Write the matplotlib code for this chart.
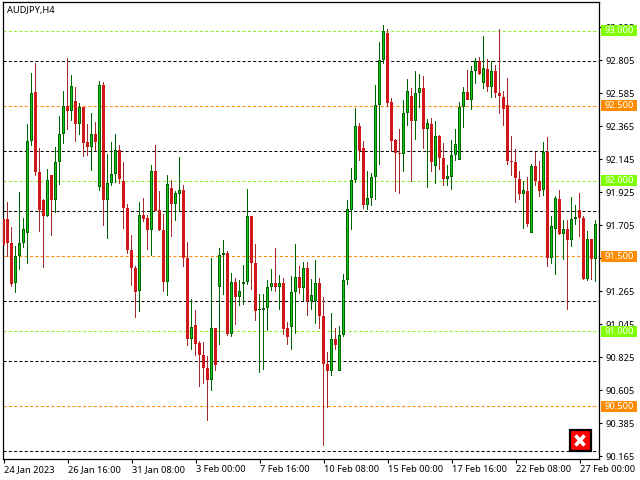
from matplotlib import pyplot as plt
from matplotlib.patches import Rectangle
import numpy as np

plt.rcParams['font.family'] = ['Noto Sans', 'DejaVu Sans']

opens = [91.747, 91.747, 91.589, 91.318, 91.500, 91.587, 91.654, 92.267, 92.594, 92.060,
         91.872, 91.765, 92.040, 91.872, 92.125, 92.312, 92.500, 92.465, 92.534, 92.378,
         92.494, 92.263, 92.227, 92.314, 91.958, 92.640, 91.872, 91.987, 92.045, 92.207,
         91.998, 91.820, 91.540, 91.420, 91.265, 91.774, 91.754, 91.672, 92.067, 91.807,
         91.674, 91.325, 91.954, 91.845, 91.912, 91.940, 91.487, 90.947, 91.040, 90.920,
         90.840, 90.756, 90.672, 91.020, 91.292, 91.507, 91.520, 90.978, 91.327, 91.225,
         91.312, 91.327, 91.767, 91.454, 91.138, 91.138, 91.152, 91.292, 91.320, 91.292,
         91.320, 91.020, 91.025, 91.258, 91.360, 91.285, 91.420, 91.200, 91.200, 91.320,
         91.100, 90.780, 90.732, 90.947, 90.732, 90.974, 91.340, 91.809, 92.005, 92.367,
         92.220, 91.843, 91.885, 92.027, 92.505, 92.809, 92.987, 92.527, 92.274, 92.183,
         92.180, 92.452, 92.567, 92.398, 92.585, 92.620, 92.345, 92.380, 92.098, 92.300,
         92.154, 92.012, 92.027, 92.174, 92.140, 92.494, 92.594, 92.538, 92.734, 92.800,
         92.654, 92.747, 92.625, 92.734, 92.587, 92.560, 92.507, 92.136, 92.127, 92.014,
         91.912, 91.934, 91.654, 92.103, 91.998, 91.938, 92.194, 91.485, 91.678, 91.880,
         91.649, 91.680, 91.605, 91.745, 91.807, 91.756, 91.349, 91.614, 91.478]
highs = [91.843, 91.863, 91.696, 91.569, 91.929, 91.754, 92.383, 92.720, 92.787, 92.220,
         91.883, 92.083, 92.040, 92.229, 92.434, 92.603, 92.820, 92.707, 92.627, 92.520,
         92.494, 92.383, 92.454, 92.396, 92.665, 92.660, 92.180, 92.263, 92.314, 92.240,
         92.127, 91.847, 91.643, 91.436, 91.860, 91.889, 91.774, 92.109, 92.240, 91.934,
         91.783, 92.043, 92.007, 91.934, 92.160, 91.974, 91.596, 91.216, 91.143, 90.936,
         90.929, 90.836, 91.487, 91.020, 91.554, 91.607, 91.536, 91.387, 91.354, 91.343,
         91.443, 91.949, 91.767, 91.580, 91.249, 91.249, 91.343, 91.414, 91.554, 91.374,
         91.354, 91.063, 91.367, 91.580, 91.436, 91.460, 91.460, 91.347, 91.474, 91.354,
         91.227, 90.860, 91.120, 91.020, 91.036, 91.380, 91.874, 92.087, 92.489, 92.387,
         92.269, 92.069, 92.054, 92.643, 92.927, 93.043, 93.014, 92.554, 92.280, 92.347,
         92.543, 92.680, 92.620, 92.736, 92.714, 92.703, 92.416, 92.423, 92.400, 92.309,
         92.254, 92.107, 92.274, 92.347, 92.527, 92.627, 92.740, 92.765, 92.820, 92.829,
         92.967, 92.814, 92.800, 92.774, 93.014, 92.600, 92.687, 92.300, 92.214, 92.067,
         92.000, 92.027, 92.116, 92.192, 92.132, 92.258, 92.296, 91.769, 91.898, 91.943,
         91.738, 91.743, 91.894, 91.843, 91.920, 91.765, 91.669, 91.614, 91.740]
lows = [91.572, 91.492, 91.292, 91.252, 91.405, 91.552, 91.445, 92.236, 92.036, 91.658,
        91.418, 91.760, 91.636, 91.785, 91.972, 92.247, 92.343, 92.398, 92.258, 92.305,
        92.158, 92.165, 92.065, 92.198, 91.932, 91.698, 91.612, 91.965, 91.987, 91.983,
        91.683, 91.512, 91.298, 91.085, 91.125, 91.725, 91.538, 91.498, 91.798, 91.665,
        91.258, 91.232, 91.625, 91.732, 91.800, 91.425, 90.898, 90.872, 90.832, 90.625,
        90.645, 90.398, 90.598, 90.732, 90.905, 91.243, 90.965, 90.958, 91.038, 91.165,
        91.172, 91.309, 91.276, 91.069, 90.718, 90.743, 91.003, 91.269, 91.258, 91.138,
        90.972, 90.909, 90.876, 90.983, 91.249, 91.198, 91.098, 91.143, 91.049, 91.016,
        90.232, 90.485, 90.698, 90.872, 90.732, 90.958, 91.305, 91.676, 91.987, 92.132,
        91.816, 91.809, 91.832, 91.872, 92.105, 92.778, 92.494, 92.192, 91.925, 91.912,
        92.058, 92.365, 91.992, 92.276, 92.487, 92.216, 91.952, 92.058, 91.978, 92.072,
        91.965, 91.965, 91.938, 92.132, 92.140, 92.352, 92.540, 92.472, 92.645, 92.709,
        92.612, 92.592, 92.552, 92.552, 92.445, 92.365, 92.105, 92.032, 91.852, 91.872,
        91.678, 91.692, 91.654, 91.969, 91.892, 91.903, 91.425, 91.449, 91.372, 91.643,
        91.476, 91.138, 91.558, 91.709, 91.625, 91.343, 91.332, 91.343, 91.325]
closes = [91.572, 91.587, 91.312, 91.500, 91.589, 91.680, 92.267, 92.587, 92.058, 91.805,
          91.765, 92.007, 91.872, 92.127, 92.314, 92.500, 92.465, 92.634, 92.378, 92.494,
          92.252, 92.225, 92.314, 92.258, 92.640, 91.872, 91.987, 92.047, 92.207, 92.012,
          91.818, 91.538, 91.418, 91.258, 91.774, 91.749, 91.672, 92.067, 91.803, 91.672,
          91.325, 91.980, 91.845, 91.920, 91.940, 91.485, 90.947, 91.027, 90.912, 90.838,
          90.752, 90.672, 91.020, 90.772, 91.507, 91.520, 90.978, 91.327, 91.225, 91.267,
          91.327, 91.767, 91.452, 91.132, 91.143, 91.156, 91.294, 91.320, 91.292, 91.320,
          91.016, 90.958, 91.260, 91.360, 91.285, 91.420, 91.200, 91.240, 91.320, 91.098,
          90.778, 90.732, 90.947, 90.905, 90.974, 91.340, 91.814, 92.007, 92.367, 92.198,
          91.838, 91.887, 92.027, 92.507, 92.807, 93.000, 92.523, 92.265, 92.185, 92.178,
          92.454, 92.600, 92.398, 92.587, 92.620, 92.345, 92.387, 92.125, 92.300, 92.152,
          92.012, 92.034, 92.174, 92.247, 92.494, 92.594, 92.540, 92.734, 92.800, 92.714,
          92.754, 92.625, 92.734, 92.585, 92.565, 92.478, 92.132, 92.125, 92.018, 91.912,
          91.940, 91.712, 92.100, 91.998, 91.936, 92.194, 91.485, 91.700, 91.889, 91.649,
          91.680, 91.605, 91.747, 91.763, 91.752, 91.349, 91.614, 91.478, 91.714]

time_labels = ['24 Jan 2023', '26 Jan 16:00', '31 Jan 08:00', '3 Feb 00:00', '7 Feb 16:00',
               '10 Feb 08:00', '15 Feb 00:00', '17 Feb 16:00', '22 Feb 08:00', '27 Feb 00:00']
time_idx = [0, 16, 32, 48, 64, 80, 96, 112, 128, 144]
price_ticks = [93.025, 92.805, 92.585, 92.365, 92.145, 91.925, 91.705,
               91.485, 91.265, 91.045, 90.825, 90.605, 90.385, 90.165]

black_levels = [92.8, 92.2, 91.8, 91.2, 90.8, 90.2]
green_levels = [93.0, 92.0, 91.0]
orange_levels = [92.5, 91.5, 90.5]

GREEN_LINE = '#8fee2f'
GREEN_BOX = '#80ff00'
ORANGE = '#ff8c00'
DASH = (0, (2.9, 2.2))
FS = 6.7
ONE_PX = 1 / 150  # one pixel of price

W, H = 640, 480
fig = plt.figure(figsize=(6.4, 4.8), dpi=100)
ax = fig.add_axes([2.5 / W, (H - 459) / H, (599 - 2.5) / W, (459 - 2) / H])
ax.set_xlim(-0.25, 148.875)
ax.set_ylim(90.147, 93.193)

for lv in black_levels:
    ax.axhline(lv, color='black', lw=0.75, ls=DASH, zorder=1)
for lv in green_levels:
    ax.axhline(lv, color=GREEN_LINE, lw=0.75, ls=DASH, zorder=1)
for lv in orange_levels:
    ax.axhline(lv, color=ORANGE, lw=0.75, ls=DASH, zorder=1)

x = np.arange(len(opens))
o = np.array(opens)
h = np.array(highs)
l = np.array(lows)
c = np.array(closes)
up = c >= o
body_low = np.minimum(o, c)
body_h = np.maximum(np.abs(c - o), 1.5 * ONE_PX)

# one bar step is 4 px, so 0.25 is a 1 px wick and 0.75 a 3 px body
ax.bar(x[up], (h - l)[up], bottom=l[up], width=0.25, color='#006400', linewidth=0, zorder=2)
ax.bar(x[~up], (h - l)[~up], bottom=l[~up], width=0.25, color='#a52a2a', linewidth=0, zorder=2)
ax.bar(x[up], body_h[up], bottom=body_low[up], width=0.75, color='#006400', linewidth=0, zorder=3)
ax.bar(x[~up], body_h[~up], bottom=body_low[~up], width=0.75, color='#d01818', linewidth=0, zorder=3)
tall = up & (body_h > 3 * ONE_PX)
ax.bar(x[tall], body_h[tall] - 2 * ONE_PX, bottom=body_low[tall] + ONE_PX, width=0.25,
       color='#14c814', linewidth=0, zorder=4)

for s in ax.spines.values():
    s.set_linewidth(0.9)

ax.yaxis.tick_right()
ax.set_yticks(price_ticks)
ax.set_yticklabels(['%.3f' % p for p in price_ticks])
ax.set_xticks(time_idx)
ax.set_xticklabels(time_labels, ha='left')
ax.tick_params(axis='y', length=2.2, width=0.8, labelsize=FS, pad=2.2)
ax.tick_params(axis='x', length=3, width=0.8, labelsize=FS, pad=1.5)

# price tags on the right edge
tag_tr = ax.get_yaxis_transform()
for levels, col in ((green_levels, GREEN_BOX), (orange_levels, ORANGE)):
    for lv in levels:
        ax.add_patch(Rectangle((1 + 2 / 596.5, lv - 5.5 / 150), 36 / 596.5, 11 / 150,
                               transform=tag_tr, facecolor=col, edgecolor='none',
                               clip_on=False, zorder=6))
        ax.text(1 + 20 / 596.5, lv, '%.3f' % lv, transform=tag_tr, color='white',
                fontsize=FS, ha='center', va='center', clip_on=False, zorder=7)

fig.text(7 / W, 1 - 11 / H, 'AUDJPY,H4', fontsize=FS, va='center', ha='left')

# close button, bottom right
fig.add_artist(Rectangle((569.5 / W, 1 - 451 / H), 21 / W, 21.5 / H, transform=fig.transFigure,
                         facecolor='#ff0000', edgecolor='black', linewidth=1.6))
fig.add_artist(plt.Line2D([575.5 / W, 584.5 / W], [1 - 435.5 / H, 1 - 445.5 / H], color='white',
                          lw=2.6, solid_capstyle='butt'))
fig.add_artist(plt.Line2D([575.5 / W, 584.5 / W], [1 - 445.5 / H, 1 - 435.5 / H], color='white',
                          lw=2.6, solid_capstyle='butt'))

fig.savefig('out.png', dpi=100)
